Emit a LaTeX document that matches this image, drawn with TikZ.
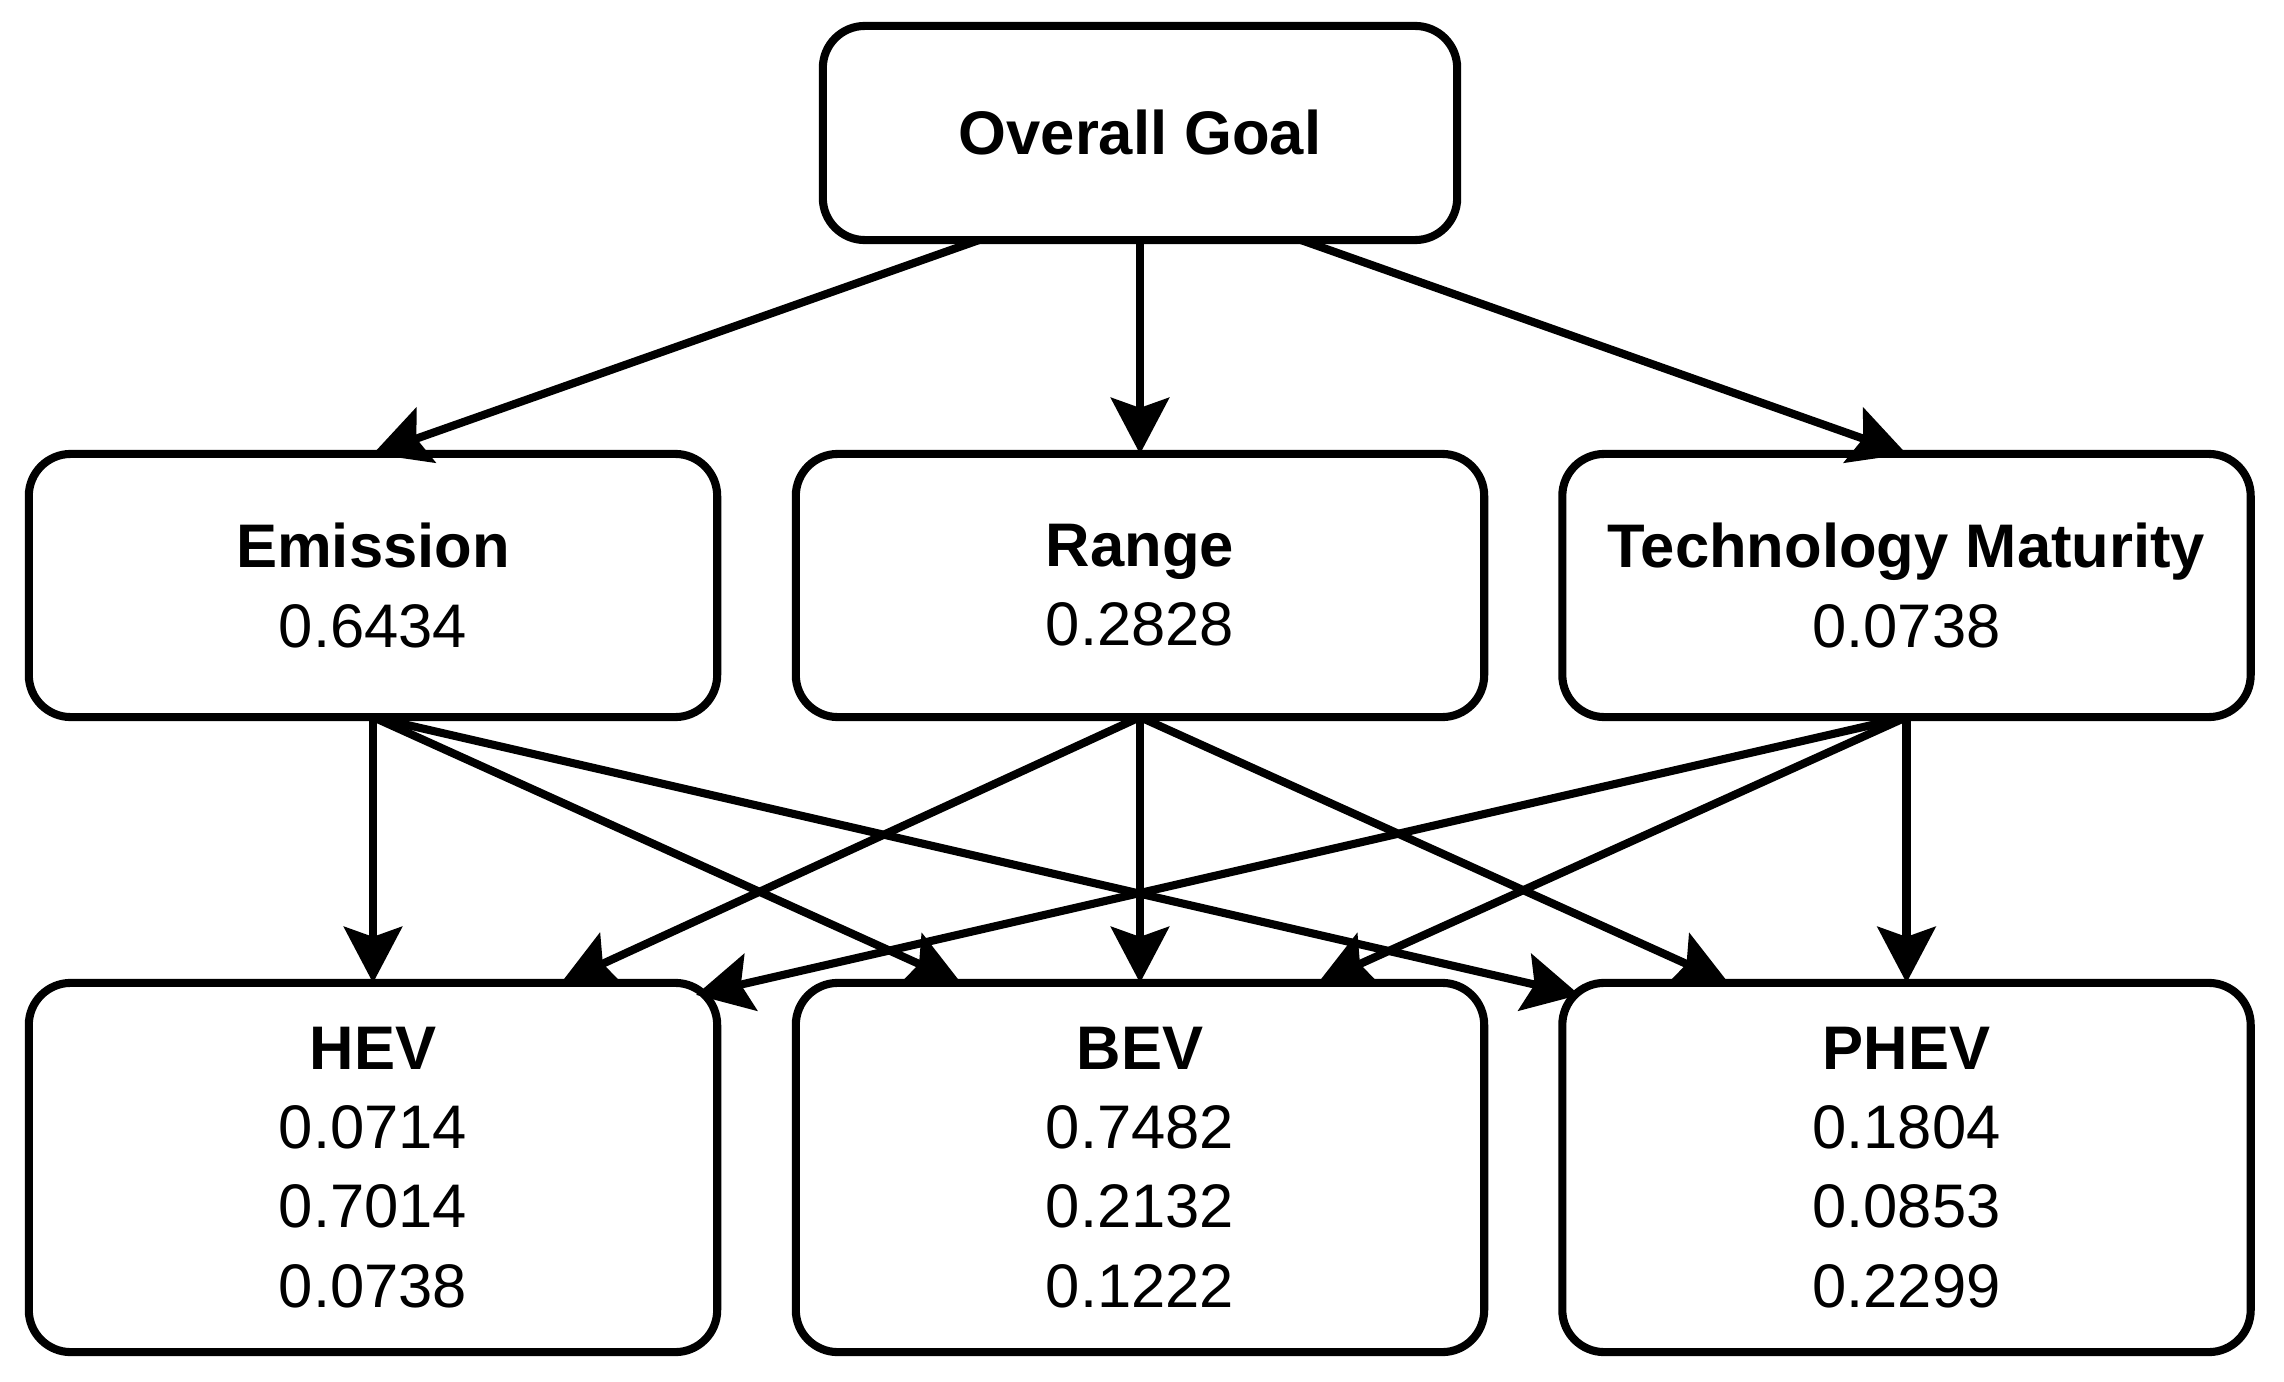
\documentclass[tikz,border=0pt]{standalone}
\usepackage{fontspec}
\setmainfont{Liberation Sans}
\usetikzlibrary{arrows.meta,calc}
\begin{document}
\begin{tikzpicture}[x=0.01cm,y=-0.01cm,
  box/.style={draw,line width=2.3pt,rounded corners=0.42cm,inner sep=0pt,outer sep=0pt,
    align=center,font=\fontsize{17.5pt}{22.5pt}\selectfont},
  topbox/.style={box,minimum width=6.34cm,minimum height=2.14cm},
  midbox/.style={box,minimum width=6.88cm,minimum height=2.63cm},
  botbox/.style={box,minimum width=6.88cm,minimum height=3.69cm},
  conn/.style={line width=2.3pt,-{Stealth[length=0.56cm,width=0.58cm,inset=0.1cm]}}]
\useasboundingbox (0,0) rectangle (2284,1382);
\node[topbox] (goal) at (1140,133) {\textbf{Overall Goal}};
\node[midbox] (emi) at (373,585.5) {\textbf{Emission}\\0.6434};
\node[midbox] (ran) at (1140,585.5) {\textbf{Range}\\0.2828};
\node[midbox] (tec) at (1906.5,585.5) {\textbf{Technology Maturity}\\0.0738};
\node[botbox] (hev) at (373,1167.5) {\textbf{HEV}\\0.0714\\0.7014\\0.0738};
\node[botbox] (bev) at (1140,1167.5) {\textbf{BEV}\\0.7482\\0.2132\\0.1222};
\node[botbox] (phev) at (1906.5,1167.5) {\textbf{PHEV}\\0.1804\\0.0853\\0.2299};
% top level
\draw[conn] ($(goal.south)+(-161,0)$) -- (emi.north);
\draw[conn] (goal.south) -- (ran.north);
\draw[conn] ($(goal.south)+(161,0)$) -- (tec.north);
% emission
\draw[conn] (emi.south) -- (hev.north);
\draw[conn] (emi.south) -- ($(bev.north)+(-179,0)$);
\draw[conn] (emi.south) -- ($(phev.north)+(-327,12)$);
% range
\draw[conn] (ran.south) -- ($(hev.north)+(188,0)$);
\draw[conn] (ran.south) -- (bev.north);
\draw[conn] (ran.south) -- ($(phev.north)+(-178,0)$);
% technology maturity
\draw[conn] (tec.south) -- ($(hev.north)+(323,12)$);
\draw[conn] (tec.south) -- ($(bev.north)+(178,0)$);
\draw[conn] (tec.south) -- (phev.north);
\end{tikzpicture}
\end{document}
